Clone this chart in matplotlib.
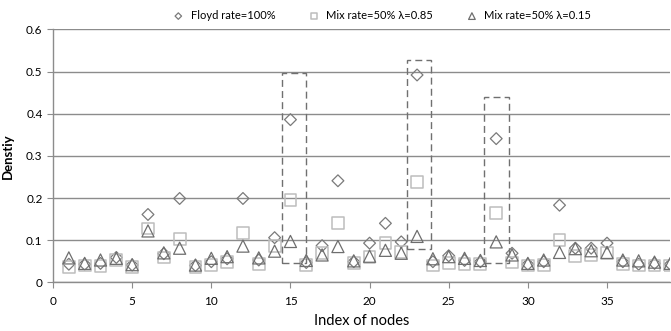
import numpy as np
import matplotlib
matplotlib.use('Agg')
from matplotlib import pyplot as plt
from matplotlib.patches import Rectangle

# node index and densities
nodes = np.arange(1, 40)
floyd = [0.043, 0.043, 0.045, 0.059, 0.041, 0.161, 0.068, 0.199, 0.040, 0.049,
         0.056, 0.199, 0.053, 0.106, 0.386, 0.047, 0.087, 0.241, 0.049, 0.093,
         0.140, 0.096, 0.492, 0.049, 0.063, 0.052, 0.049, 0.341, 0.069, 0.043,
         0.049, 0.183, 0.081, 0.081, 0.093, 0.049, 0.043, 0.045, 0.043]
mix085 = [0.037, 0.040, 0.039, 0.053, 0.037, 0.128, 0.059, 0.102, 0.036, 0.041,
          0.049, 0.118, 0.044, 0.086, 0.195, 0.041, 0.069, 0.141, 0.045, 0.060,
          0.094, 0.072, 0.239, 0.040, 0.045, 0.044, 0.044, 0.164, 0.047, 0.040,
          0.041, 0.100, 0.063, 0.065, 0.069, 0.043, 0.040, 0.040, 0.040]
mix015 = [0.058, 0.045, 0.053, 0.057, 0.042, 0.122, 0.070, 0.081, 0.041, 0.057,
          0.061, 0.086, 0.058, 0.074, 0.097, 0.052, 0.065, 0.085, 0.051, 0.062,
          0.076, 0.069, 0.109, 0.056, 0.061, 0.057, 0.052, 0.096, 0.065, 0.045,
          0.053, 0.071, 0.080, 0.075, 0.071, 0.053, 0.051, 0.048, 0.045]

# dashed highlight boxes: (x0, x1, y0, y1)
boxes = [(14.49, 15.96, 0.047, 0.496),
         (22.34, 23.86, 0.0785, 0.528),
         (27.25, 28.83, 0.047, 0.439)]

plt.rcParams['font.family'] = ['Lato', 'DejaVu Sans']

fig = plt.figure(figsize=(6.71, 3.31), dpi=100)
ax = fig.add_axes([0.079, 0.147, 0.920, 0.764])

ax.scatter(nodes, floyd, marker='D', s=36, facecolors='none',
           edgecolors='#7a7a7a', linewidths=0.9, label='Floyd rate=100%', zorder=3)
ax.scatter(nodes, mix085, marker='s', s=72, facecolors='none',
           edgecolors='#bdbdbd', linewidths=1.1, label='Mix rate=50% λ=0.85', zorder=3)
ax.scatter(nodes, mix015, marker='^', s=76, facecolors='none',
           edgecolors='#6e6e6e', linewidths=0.9, label='Mix rate=50% λ=0.15', zorder=4)

for x0, x1, y0, y1 in boxes:
    ax.add_patch(Rectangle((x0, y0), x1 - x0, y1 - y0, fill=False,
                           edgecolor='#707070', linestyle=(0, (5, 3)), linewidth=1.0, zorder=5))

ax.set_xlim(0, 39)
ax.set_ylim(0, 0.6)
ax.set_xticks(np.arange(0, 36, 5))
ax.set_yticks(np.arange(0, 0.61, 0.1))
ax.set_yticklabels(['0', '0.1', '0.2', '0.3', '0.4', '0.5', '0.6'])
ax.yaxis.grid(True, color='#8c8c8c', linewidth=1.0)
ax.set_axisbelow(True)
for side in ['top', 'right']:
    ax.spines[side].set_visible(False)
for side in ['left', 'bottom']:
    ax.spines[side].set_color('#8c8c8c')
    ax.spines[side].set_linewidth(1.0)
ax.tick_params(axis='both', colors='#8c8c8c', labelcolor='black', labelsize=8.5,
               length=4, direction='out')
ax.tick_params(axis='x', pad=6)

ax.set_xlabel('Index of nodes', fontsize=10.5, labelpad=5)
ax.set_ylabel('Denstiy', fontsize=9.5, fontweight='bold', labelpad=8)
ax.yaxis.set_label_coords(-0.063, 0.5)

fig.legend(loc='upper center', bbox_to_anchor=(0.565, 1.0), ncol=3, frameon=False,
           fontsize=8, markerscale=0.55, handletextpad=0.1, columnspacing=2.5)

fig.savefig('out.png', dpi=100)
